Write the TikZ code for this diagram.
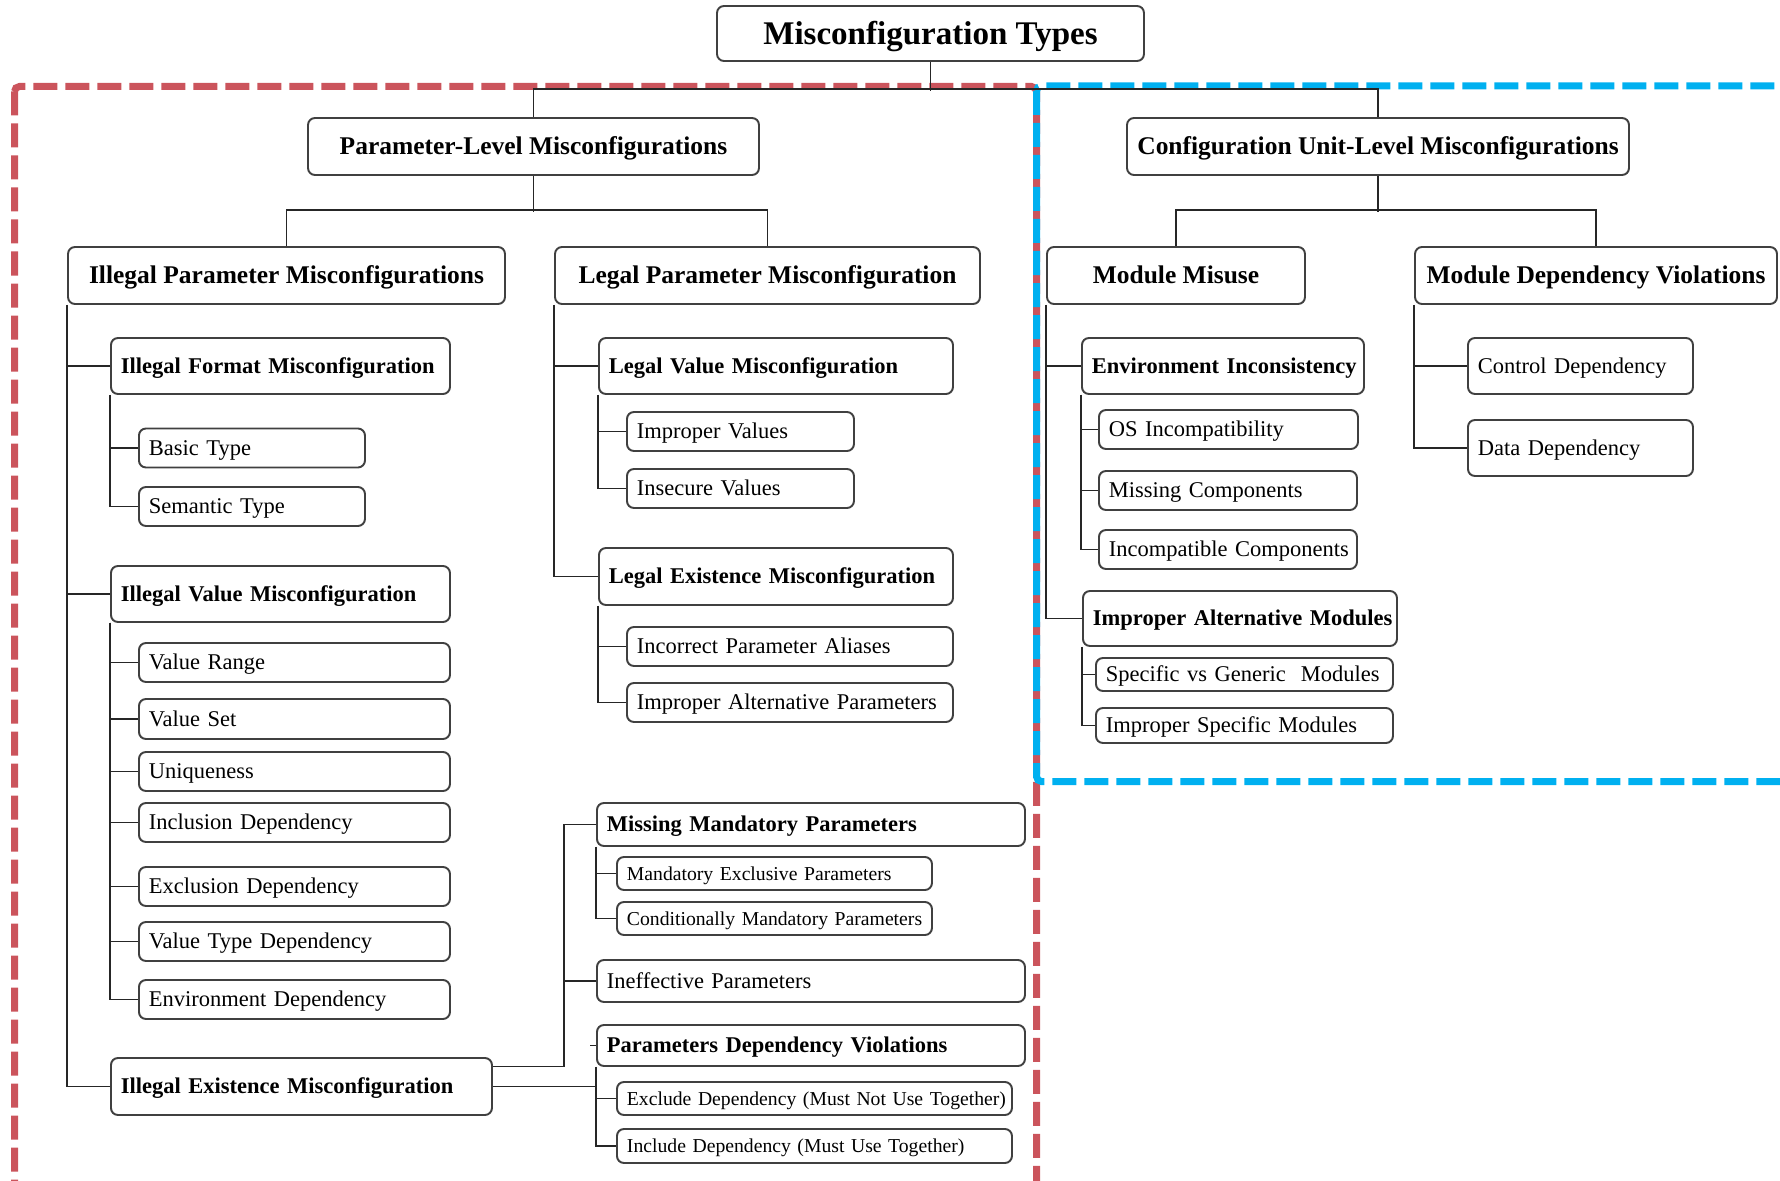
\documentclass[tikz,border=0pt]{standalone}
\usepackage{fontspec}
\setmainfont{Liberation Serif}
\definecolor{paramred}{RGB}{203,84,92}
\definecolor{unitblue}{RGB}{0,176,240}
\tikzset{
  box/.style = {draw=black!75, fill=white, line width=1.1pt,
                rounded corners=1.4mm, inner sep=0pt},
  levelbox/.style 2 args = {box, minimum width=#1*0.2mm,
                minimum height=#2*0.2mm, text height=10pt, text depth=0.4pt,
                font=\fontsize{14.5}{17}\selectfont\bfseries},
  headbox/.style = {levelbox={427}{55}, text height=12.9pt,
                font=\fontsize{18.8}{22}\selectfont\bfseries},
  leafbox/.style 2 args = {box, anchor=west, inner xsep=2mm,
                text width={(#1-20)*0.2mm}, minimum height=#2*0.2mm,
                text height=8.9pt, text depth=0.4pt,
                font=\fontsize{12.8}{15}\selectfont,
                execute at begin node={\hbox to\hsize\bgroup},
                execute at end node={\hfil\egroup}},
  groupbox/.style 2 args = {leafbox={#1}{#2},
                font=\fontsize{12.8}{15}\selectfont\bfseries},
  smallbox/.style 2 args = {leafbox={#1}{#2}, text height=7.8pt,
                font=\fontsize{11.2}{13}\selectfont},
  link/.style = {draw=black!85, line width=0.85pt},
  groupframe/.style = {line width=1.4mm, dash pattern=on 4.8mm off 1.6mm,
                rounded corners=1mm},
}
\begin{document}
\begin{tikzpicture}[x=0.2mm, y=-0.2mm]
\clip (0,0) rectangle (1780,1181);
% dashed group frames
\draw[groupframe, paramred] (14.5,86.5) rectangle (1036.5,1300);
\draw[groupframe, unitblue] (1036.5,86) rectangle (1900,781.5);

% top levels
\node[headbox] (title) at (930.5,33.5) {Misconfiguration Types};
\node[levelbox={451}{57}] (paramLevel) at (533.5,146.5) {Parameter-Level Misconfigurations};
\node[levelbox={502}{57}] (unitLevel) at (1378,146.5) {Configuration Unit-Level Misconfigurations};
\node[levelbox={437}{57}] (illegalParam) at (286.5,275.5) {Illegal Parameter Misconfigurations};
\node[levelbox={425}{57}] (legalParam) at (767.5,275.5) {Legal Parameter Misconfiguration};
\node[levelbox={258}{57}] (modMisuse) at (1176,275.5) {Module Misuse};
\node[levelbox={362}{57}] (modDep) at (1596,275.5) {Module Dependency Violations};

% illegal parameters
\node[groupbox={339}{56}] (illFormat) at (110,366) {Illegal Format Misconfiguration};
\node[leafbox={226}{39}] (basicType) at (138,448) {Basic Type};
\node[leafbox={226}{39}] (semType) at (138,506.5) {Semantic Type};
\node[groupbox={339}{56}] (illValue) at (110,594) {Illegal Value Misconfiguration};
\node[leafbox={311}{39}] (valRange) at (138,662.5) {Value Range};
\node[leafbox={311}{40}] (valSet) at (138,719) {Value Set};
\node[leafbox={311}{39}] (unique) at (138,771.5) {Uniqueness};
\node[leafbox={311}{39}] (inclDep) at (138,822.5) {Inclusion Dependency};
\node[leafbox={311}{39}] (exclDep) at (138,886.5) {Exclusion Dependency};
\node[leafbox={311}{39}] (typeDep) at (138,941.5) {Value Type Dependency};
\node[leafbox={311}{39}] (envDep) at (138,999.5) {Environment Dependency};
\node[groupbox={381}{57}] (illExist) at (110,1086.5) {Illegal Existence Misconfiguration};

% legal parameters
\node[groupbox={354}{56}] (legValue) at (598,366) {Legal Value Misconfiguration};
\node[leafbox={227}{39}] (impValues) at (626,431.5) {Improper Values};
\node[leafbox={227}{39}] (insecValues) at (626,488.5) {Insecure Values};
\node[groupbox={354}{57}] (legExist) at (598,576.5) {Legal Existence Misconfiguration};
\node[leafbox={326}{39}] (paramAlias) at (626,646.5) {Incorrect Parameter Aliases};
\node[leafbox={326}{39}] (impAltParam) at (626,702.5) {Improper Alternative Parameters};

% illegal existence
\node[groupbox={428}{43}] (missMand) at (596,824.5) {Missing Mandatory Parameters};
\node[smallbox={315}{33}] (mandExcl) at (616,873.5) {Mandatory Exclusive Parameters};
\node[smallbox={315}{33}] (condMand) at (616,918.5) {Conditionally Mandatory Parameters};
\node[leafbox={428}{42}] (ineffective) at (596,981) {Ineffective Parameters};
\node[groupbox={428}{41}] (paramDep) at (596,1045.5) {Parameters Dependency Violations};
\node[smallbox={395}{33}] (excludeDep) at (616,1098.5) {Exclude Dependency (Must Not Use Together)};
\node[smallbox={395}{34}] (includeDep) at (616,1146) {Include Dependency (Must Use Together)};

% configuration units
\node[groupbox={282}{56}] (envIncons) at (1081,366) {Environment Inconsistency};
\node[leafbox={259}{39}] (osIncomp) at (1098,429.5) {OS Incompatibility};
\node[leafbox={258}{39}] (missComp) at (1098,490.5) {Missing Components};
\node[leafbox={258}{39}] (incompComp) at (1098,549.5) {Incompatible Components};
\node[groupbox={314}{55}] (impAltMod) at (1082,618.5) {Improper Alternative Modules};
\node[leafbox={297}{33}] (specGeneric) at (1095,674.5) {Specific vs Generic\ \ Modules};
\node[leafbox={297}{35}] (impSpecific) at (1095,725.5) {Improper Specific Modules};
\node[leafbox={225}{56}] (ctrlDep) at (1467,366) {Control Dependency};
\node[leafbox={225}{56}] (dataDep) at (1467,448) {Data Dependency};

% connectors
\draw[link] (title.south) -- ++(0,29);
\draw[link] (paramLevel.north) -- ++(0,-28) -| (unitLevel.north);
\draw[link] (paramLevel.south) -- ++(0,36);
\draw[link] (illegalParam.north) -- ++(0,-36) -| (legalParam.north);
\draw[link] (unitLevel.south) -- ++(0,36);
\draw[link] (modMisuse.north) -- ++(0,-36) -| (modDep.north);

\foreach \n in {illFormat,illValue,illExist}
  \draw[link] (illegalParam.south west) |- (\n.west);
\foreach \n in {basicType,semType}
  \draw[link] (illFormat.south west) |- (\n.west);
\foreach \n in {valRange,valSet,unique,inclDep,exclDep,typeDep,envDep}
  \draw[link] (illValue.south west) |- (\n.west);

\foreach \n in {legValue,legExist}
  \draw[link] (legalParam.south west) |- (\n.west);
\foreach \n in {impValues,insecValues}
  \draw[link] (legValue.south west) |- (\n.west);
\foreach \n in {paramAlias,impAltParam}
  \draw[link] (legExist.south west) |- (\n.west);

\coordinate (existFork) at ([xshift=14.2mm,yshift=4mm]illExist.east);
\draw[link] ([yshift=4mm]illExist.east) -- (existFork) |- (missMand.west);
\draw[link] (existFork) |- (ineffective.west);
\draw[link] (illExist.east) -- (illExist.east -| paramDep.west);
\draw[link] ([xshift=-1.2mm]paramDep.west) -- (paramDep.west);
\foreach \n in {mandExcl,condMand}
  \draw[link] (missMand.south west) |- (\n.west);
\foreach \n in {excludeDep,includeDep}
  \draw[link] (paramDep.south west) |- (\n.west);

\foreach \n in {envIncons,impAltMod}
  \draw[link] (modMisuse.south west) |- (\n.west);
\foreach \n in {osIncomp,missComp,incompComp}
  \draw[link] (envIncons.south west) |- (\n.west);
\foreach \n in {specGeneric,impSpecific}
  \draw[link] (impAltMod.south west) |- (\n.west);
\foreach \n in {ctrlDep,dataDep}
  \draw[link] (modDep.south west) |- (\n.west);
\end{tikzpicture}
\end{document}
